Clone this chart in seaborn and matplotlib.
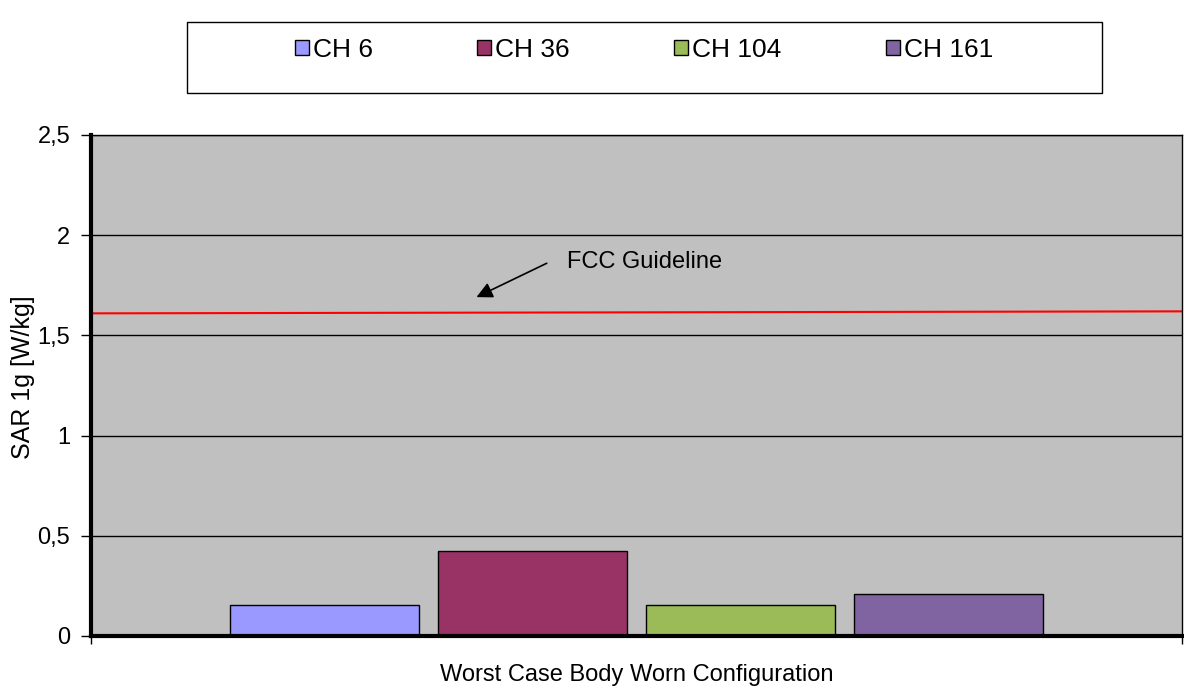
import pandas as pd
import matplotlib
matplotlib.use("Agg")
import matplotlib.pyplot as plt
import matplotlib.ticker as mticker
from matplotlib.patches import Rectangle
import seaborn as sns

# values
configuration = "Worst Case Body Worn Configuration"
channels = ["CH 6", "CH 36", "CH 104", "CH 161"]
sar_1g = [0.155, 0.426, 0.155, 0.211]
bar_colors = ["#9999FF", "#993366", "#9BBB59", "#8064A2"]
fcc_level = [1.61, 1.62]   # guideline drawn slightly sloped in the original
y_ticks = [0, 0.5, 1, 1.5, 2, 2.5]

df = pd.DataFrame({
    "config": [configuration] * len(channels),
    "channel": channels,
    "sar": sar_1g,
})

sns.set_theme(style="white")
plt.rcParams["font.family"] = ["Liberation Sans", "DejaVu Sans"]
plt.rcParams["text.color"] = "black"
plt.rcParams["axes.labelcolor"] = "black"
plt.rcParams["xtick.color"] = "black"
plt.rcParams["ytick.color"] = "black"

fig = plt.figure(figsize=(11.84, 6.88), dpi=100)
ax = fig.add_axes([91 / 1184, 52 / 688, 1091 / 1184, 501 / 688])
ax.set_facecolor("#C0C0C0")

sns.barplot(data=df, x="config", y="sar", hue="channel", hue_order=channels,
            palette=dict(zip(channels, bar_colors)), width=0.762, gap=0.09,
            edgecolor="black", linewidth=1, saturation=1, ax=ax)

ax.set_xlim(-0.5, 0.5)
ax.set_ylim(0, 2.5)

# FCC guideline across the whole plot
xl = ax.get_xlim()
sns.lineplot(x=list(xl), y=fcc_level, color="red", linewidth=1.5, ax=ax, legend=False)
ax.annotate("", xy=(-0.149, 1.685), xytext=(-0.080, 1.866),
            arrowprops=dict(arrowstyle="-|>", color="black", lw=1.2, mutation_scale=24))
ax.text(-0.064, 1.866, "FCC Guideline", fontsize=17, va="center", ha="left")

# axes styling, excel look
ax.set_yticks(y_ticks)
ax.yaxis.set_major_formatter(mticker.FuncFormatter(lambda v, p: f"{v:g}".replace(".", ",")))
ax.yaxis.grid(True, color="black", linewidth=1)
ax.set_axisbelow(True)
ax.tick_params(axis="y", direction="out", length=7, width=1, labelsize=17, pad=8, left=True)
ax.set_xticks([0])
ax.set_xticklabels([configuration])
ax.set_xticks(list(xl), minor=True)
ax.tick_params(axis="x", which="major", length=0, labelsize=17, pad=20)
ax.tick_params(axis="x", which="minor", direction="out", length=6, width=1, bottom=True)
ax.set_xlabel("")
ax.set_ylabel("SAR 1g [W/kg]", fontsize=18)
ax.yaxis.set_label_coords(-0.051, 0.517)

for side in ["left", "bottom"]:
    ax.spines[side].set_linewidth(3)
    ax.spines[side].set_color("black")
for side in ["top", "right"]:
    ax.spines[side].set_linewidth(1)
    ax.spines[side].set_color("black")

# legend on top, in its own box
handles, labels = ax.get_legend_handles_labels()
if ax.get_legend() is not None:
    ax.get_legend().remove()
fig.legend(handles[:4], labels[:4], loc="center", bbox_to_anchor=(644 / 1184, 1 - 50 / 688),
           ncol=4, frameon=False, fontsize=19, columnspacing=3.95,
           handlelength=0.53, handleheight=0.53, handletextpad=0.15)
fig.add_artist(Rectangle((186.5 / 1184, 1 - 93 / 688), 915.5 / 1184, 71 / 688,
                         transform=fig.transFigure, fill=False, edgecolor="black", linewidth=1))

fig.savefig("out.png", dpi=100)
